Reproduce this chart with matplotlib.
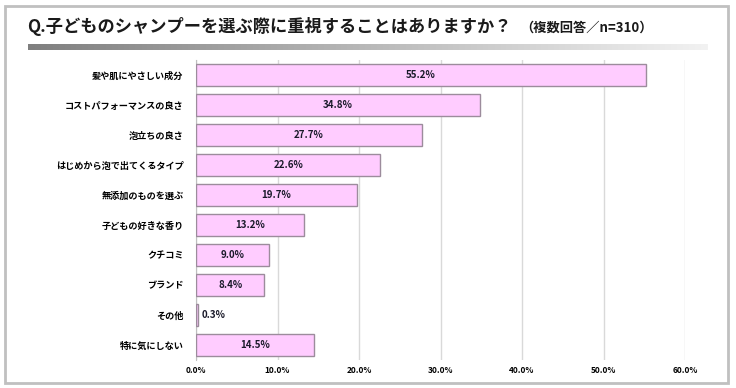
import numpy as np
import matplotlib
matplotlib.use('Agg')
import matplotlib.pyplot as plt
from matplotlib.patches import Rectangle

plt.rcParams['font.family'] = ['Noto Sans CJK JP', 'DejaVu Sans']

categories = ['髪や肌にやさしい成分', 'コストパフォーマンスの良さ', '泡立ちの良さ',
              'はじめから泡で出てくるタイプ', '無添加のものを選ぶ', '子どもの好きな香り',
              'クチコミ', 'ブランド', 'その他', '特に気にしない']
values = [55.2, 34.8, 27.7, 22.6, 19.7, 13.2, 9.0, 8.4, 0.3, 14.5]
ticks = [0, 10, 20, 30, 40, 50, 60]
title = 'Q.子どものシャンプーを選ぶ際に重視することはありますか？'
subtitle = '（複数回答／n=310）'

W, H = 736, 388
fig = plt.figure(figsize=(W / 100, H / 100), dpi=100)

# outer frame
fig.patches.append(Rectangle((5 / W, 5 / H), 723 / W, 377 / H, transform=fig.transFigure,
                             fill=False, edgecolor='#c0c0c0', linewidth=2))

# title
fig.text(27 / W, 1 - 27 / H, title, fontsize=12.4, fontweight='bold', va='center', ha='left',
         color='#1a1a1a')
fig.text(520 / W, 1 - 28 / H, subtitle, fontsize=9.5, fontweight='bold', va='center', ha='left',
         color='#1a1a1a')

# gradient bar under title
gax = fig.add_axes([28 / W, 1 - 50 / H, 680 / W, 6 / H])
grad = np.linspace(0, 1, 256).reshape(1, -1)
gax.imshow(grad, aspect='auto', cmap=matplotlib.colors.LinearSegmentedColormap.from_list(
    'g', ['#7f7f7f', '#f2f2f2']))
gax.axis('off')

# main chart
ax = fig.add_axes([196 / W, 1 - 360 / H, 489 / W, 300 / H])
y = np.arange(len(categories))
ax.barh(y, values, height=0.73, color='#ffccff', edgecolor='#9c8c9c', linewidth=1, zorder=3)
ax.set_xlim(0, 60)
ax.set_ylim(len(categories) - 0.5, -0.5)
ax.set_xticks(ticks)
ax.set_xticklabels([f'{t:.1f}%' for t in ticks], fontsize=6, fontweight='bold')
ax.set_yticks(y)
ax.set_yticklabels(categories, fontsize=6.6, fontweight='bold')
ax.tick_params(length=0)
ax.tick_params(axis='y', pad=9)
ax.tick_params(axis='x', pad=4)
ax.grid(axis='x', color='#d9d9d9', linewidth=1, zorder=0)
for s in ['top', 'right', 'bottom']:
    ax.spines[s].set_visible(False)
ax.spines['left'].set_color('#bfbfbf')

for i, v in enumerate(values):
    if v < 2:
        ax.text(v + 0.4, i, f'{v:.1f}%', va='center', ha='left', fontsize=7,
                fontweight='bold', color='#1a1a2a', zorder=4)
    else:
        ax.text(v / 2, i, f'{v:.1f}%', va='center', ha='center', fontsize=7,
                fontweight='bold', color='#1a1a2a', zorder=4)

fig.savefig('out.png', dpi=100)
